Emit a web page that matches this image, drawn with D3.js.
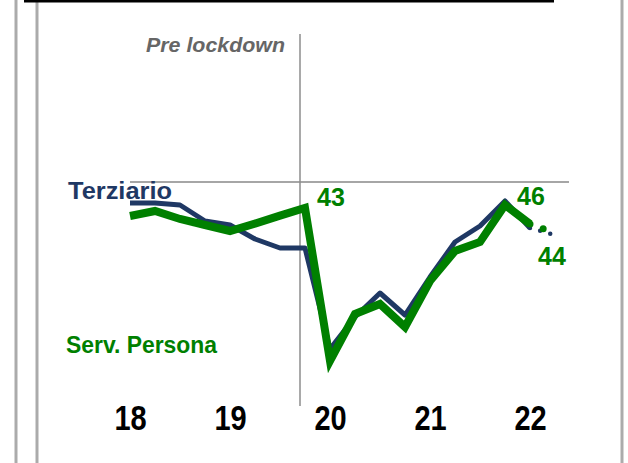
<!DOCTYPE html>
<html>
<head>
<meta charset="utf-8">
<script src="https://cdn.jsdelivr.net/npm/d3@7"></script>
<style>
  html, body { margin: 0; padding: 0; background: #fff; }
  svg { display: block; }
  text { font-family: "Liberation Sans", Arial, sans-serif; }
</style>
</head>
<body>
<svg id="chart" width="628" height="463"></svg>
<script>
// ---- data (quarterly index, 2018Q1 = position 0) ----
const quarters = d3.range(0, 18);               // 0..17 (17 = forecast)
const terziario = [94.75, 94.75, 94.25, 90.25, 89.25, 85.75, 83.5, 83.5,
                   58.25, 66.25, 72.25, 66.75, 76.25, 85, 89, 95.25, 88.5];
const servPersona = [91.5, 92.75, 90.75, 89.25, 87.75, 89.6, 91.6, 93.5,
                     55.25, 67, 69.5, 63.75, 75.25, 82.75, 85, 94.25, 89.5];
const terziarioForecast = [88.5, 86.75];        // positions 16 -> 17
const servPersonaForecast = [89.5, 87.25];      // positions 16 -> 17
const yearTicks = [0, 4, 8, 12, 16];
const yearLabels = ["18", "19", "20", "21", "22"];
const lockdownPos = 6.8;                          // pre-lockdown marker
const referenceLevel = 100;
const valueLabels = [
  { pos: 7, text: "43", dx: 26, dy: -2 },
  { pos: 15, text: "46", dx: 26, dy: 0 },
  { pos: 17, text: "44", dx: -3, dy: 32 }
];

// ---- scales ----
const x = d3.scaleLinear().domain([0, 17]).range([130, 555]);
const y = d3.scaleLinear().domain([50, 100]).range([382, 182]);

const svg = d3.select("#chart");
const blue = "#1f3864";
const green = "#008000";

// frame decorations
const frameX = [16, 37, 622];
svg.selectAll("line.frame").data(frameX).enter().append("line")
  .attr("class", "frame")
  .attr("x1", d => d).attr("x2", d => d)
  .attr("y1", 0).attr("y2", 463)
  .attr("stroke", "#ababab").attr("stroke-width", 3);
svg.append("line")
  .attr("x1", 24).attr("x2", 554).attr("y1", 1).attr("y2", 1)
  .attr("stroke", "#000").attr("stroke-width", 3);

// reference horizontal line
svg.append("line")
  .attr("x1", 130).attr("x2", 569)
  .attr("y1", y(referenceLevel)).attr("y2", y(referenceLevel))
  .attr("stroke", "#a6a6a6").attr("stroke-width", 2);

// pre-lockdown vertical line
svg.append("line")
  .attr("x1", x(lockdownPos)).attr("x2", x(lockdownPos))
  .attr("y1", 34).attr("y2", 406)
  .attr("stroke", "#8c8c8c").attr("stroke-width", 1.5);

svg.append("text")
  .attr("x", 146).attr("y", 52)
  .attr("font-size", 20).attr("font-weight", "bold").attr("font-style", "italic")
  .attr("fill", "#666666")
  .attr("textLength", 139).attr("lengthAdjust", "spacingAndGlyphs")
  .text("Pre lockdown");

// x axis labels
const axis = d3.axisBottom(x).tickValues(yearTicks)
  .tickFormat((d, i) => yearLabels[i]).tickSize(0).tickPadding(0);
const gAxis = svg.append("g").attr("transform", "translate(0,400)").call(axis);
gAxis.select(".domain").remove();
gAxis.selectAll("text")
  .attr("dy", 0)
  .attr("y", 24.5)
  .attr("transform", "scale(1,1.22)")
  .style("font-family", "'Liberation Sans', Arial, sans-serif")
  .style("font-size", "29px").style("font-weight", "bold").attr("fill", "#000");

// lines
const line = d3.line().x((d, i) => x(i)).y(d => y(d));
const lineF = d3.line().x((d, i) => x(16 + i)).y(d => y(d));

svg.append("path").datum(terziario)
  .attr("d", line).attr("fill", "none")
  .attr("stroke", blue).attr("stroke-width", 5).attr("stroke-linejoin", "round");
svg.append("path").datum(terziarioForecast)
  .attr("d", lineF).attr("fill", "none")
  .attr("stroke", blue).attr("stroke-width", 4.5)
  .attr("stroke-linecap", "round").attr("stroke-dasharray", "0,10.5");

svg.append("path").datum(servPersona)
  .attr("d", line).attr("fill", "none")
  .attr("stroke", green).attr("stroke-width", 8).attr("stroke-linejoin", "miter");
svg.append("path").datum(servPersonaForecast)
  .attr("d", lineF).attr("fill", "none")
  .attr("stroke", green).attr("stroke-width", 7)
  .attr("stroke-linecap", "round").attr("stroke-dasharray", "0,14");

// series labels
svg.append("text").attr("x", 68).attr("y", 199)
  .attr("font-size", 24).attr("font-weight", "bold").attr("fill", blue)
  .attr("textLength", 104).attr("lengthAdjust", "spacingAndGlyphs")
  .text("Terziario");
svg.append("text").attr("x", 66).attr("y", 353)
  .attr("font-size", 24).attr("font-weight", "bold").attr("fill", green)
  .attr("textLength", 151).attr("lengthAdjust", "spacingAndGlyphs")
  .text("Serv. Persona");

// value labels
const allGreen = servPersona.concat([servPersonaForecast[1]]);
svg.selectAll("text.val").data(valueLabels).enter().append("text")
  .attr("class", "val")
  .attr("x", d => x(d.pos) + d.dx)
  .attr("y", d => y(allGreen[d.pos]) + d.dy)
  .attr("text-anchor", "middle")
  .attr("font-size", 25).attr("font-weight", "bold").attr("fill", green)
  .text(d => d.text);
</script>
</body>
</html>
